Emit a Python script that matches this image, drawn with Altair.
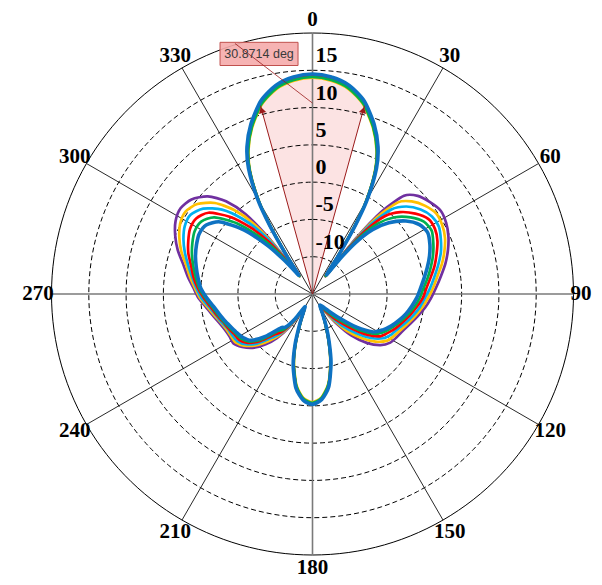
import math
import altair as alt
import pandas as pd

# ---------------- data (gain in dB, angle in degrees clockwise from top) ----------------
ANGLES = [0, 5, 10, 15, 20, 24, 27, 30, 32, 34, 36, 38, 40, 43, 47, 52, 57, 62, 67, 72,
          77, 82, 87, 92, 97, 102, 107, 112, 117, 122, 127, 132, 137, 141, 145, 149, 153,
          157, 161, 165, 170, 175, 180,
          185, 190, 195, 199, 203, 207, 211, 215, 219, 223, 228, 233, 238, 243, 248, 253,
          258, 263, 268, 273, 278, 283, 288, 293, 298, 303, 308, 313, 317, 320, 322, 324,
          326, 328, 330, 333, 336, 340, 345, 350, 355]

PURPLE_R = [14.2, 13.9, 13.1, 11.5, 8.9, 6.3, 3.6, -0.5, -4.5, -9.0, -12.0,
            -5.5, -0.5, 3.0, 4.3, 5.0, 5.5, 5.3, 4.8, 4.1, 3.3, 2.4, 1.6, 0.9, 0.2, -0.6,
            -1.3, -1.9, -2.3, -2.7, -3.6, -5.2, -7.4, -10.0, -12.3, -13.0,
            -12.0, -10.5, -8.3, -5.6, -2.6, -0.9, -0.3]
PURPLE_L = [-0.8, -2.4, -5.2, -8.0, -10.8, -12.5,
            -12.0, -9.6, -7.4, -5.8, -4.2, -3.2, -2.5, -2.5, -2.3, -1.9, -1.3, -0.6, 0.3,
            1.0, 1.9, 2.8, 4.0, 5.0, 5.8, 6.1, 5.6, 4.2, 2.0, -1.0, -5.5,
            -12.0, -9.0, -4.5, -0.5, 3.6, 6.3, 8.9, 11.5, 13.1, 13.9]

YELLOW_R = [14.0, 13.7, 12.9, 11.3, 8.7, 6.1, 3.4, -0.7, -4.7, -9.2, -12.0,
            -6.2, -1.6, 1.8, 3.2, 4.2, 4.8, 4.7, 4.3, 3.6, 2.8, 1.9, 1.2, 0.5, -0.2, -0.9,
            -1.6, -2.2, -2.7, -3.2, -4.4, -6.2, -8.3, -10.6, -12.5, -13.0,
            -12.0, -10.6, -8.4, -5.8, -2.8, -1.1, -0.5]
YELLOW_L = [-1.0, -2.6, -5.4, -8.2, -11.0, -12.5,
            -12.2, -9.9, -7.8, -6.4, -4.7, -3.5, -2.8, -2.7, -2.5, -2.1, -1.5, -0.8, 0.1,
            0.8, 1.6, 2.4, 3.5, 4.4, 5.1, 5.3, 4.6, 2.9, 0.4, -2.6, -6.6,
            -12.0, -9.2, -4.7, -0.7, 3.4, 6.1, 8.7, 11.3, 12.9, 13.7]

CYAN_R = [14.2, 13.9, 13.1, 11.5, 8.9, 6.3, 3.6, -0.5, -4.5, -9.0, -12.0,
          -6.9, -2.7, 0.5, 2.2, 3.4, 4.1, 4.2, 3.7, 3.1, 2.3, 1.5, 0.8, 0.1, -0.5, -1.2,
          -1.9, -2.6, -3.1, -3.8, -5.2, -7.2, -9.2, -11.1, -12.7, -13.0,
          -12.0, -10.5, -8.3, -5.6, -2.6, -0.9, -0.3]
CYAN_L = [-0.8, -2.4, -5.2, -8.0, -10.8, -12.5,
          -12.4, -10.2, -8.2, -7.0, -5.1, -3.8, -3.1, -2.9, -2.7, -2.2, -1.7, -1.0, -0.1,
          0.6, 1.3, 2.1, 3.0, 3.8, 4.4, 4.5, 3.6, 1.6, -1.2, -4.2, -7.7,
          -12.0, -9.0, -4.5, -0.5, 3.6, 6.3, 8.9, 11.5, 13.1, 13.9]

RED_R = [14.2, 13.9, 13.1, 11.5, 8.9, 6.3, 3.6, -0.5, -4.5, -9.0, -12.0,
         -7.6, -3.8, -0.7, 1.1, 2.5, 3.5, 3.6, 3.2, 2.5, 1.8, 1.0, 0.3, -0.2, -0.9, -1.6,
         -2.3, -2.9, -3.6, -4.3, -6.0, -8.3, -10.2, -11.7, -12.8, -13.0,
         -12.0, -10.5, -8.3, -5.6, -2.6, -0.9, -0.3]
RED_L = [-0.8, -2.4, -5.2, -8.0, -10.8, -12.5,
         -12.6, -10.4, -8.5, -7.6, -5.6, -4.1, -3.4, -3.2, -2.8, -2.4, -1.8, -1.2, -0.4,
         0.4, 1.1, 1.7, 2.5, 3.1, 3.6, 3.6, 2.7, 0.2, -2.8, -5.8, -8.8,
         -12.0, -9.0, -4.5, -0.5, 3.6, 6.3, 8.9, 11.5, 13.1, 13.9]

GREEN_R = [14.1, 13.8, 13.0, 11.4, 8.8, 6.2, 3.5, -0.6, -4.6, -9.1, -12.0,
           -8.3, -4.9, -2.0, 0.1, 1.7, 2.8, 3.1, 2.6, 2.0, 1.3, 0.6, -0.1, -0.6, -1.2, -1.9,
           -2.6, -3.3, -4.0, -4.9, -6.8, -9.3, -11.1, -12.2, -13.0, -13.0,
           -12.0, -10.6, -8.4, -5.7, -2.7, -1.0, -0.4]
GREEN_L = [-0.9, -2.5, -5.3, -8.1, -10.9, -12.5,
           -12.8, -10.7, -8.9, -8.2, -6.0, -4.4, -3.7, -3.4, -3.0, -2.5, -2.0, -1.4, -0.6,
           0.2, 0.8, 1.4, 2.0, 2.5, 2.9, 2.8, 1.7, -1.1, -4.4, -7.4, -9.9,
           -12.0, -9.1, -4.6, -0.6, 3.5, 6.2, 8.8, 11.4, 13.0, 13.8]

BLUE_R = [14.5, 14.2, 13.4, 11.8, 9.2, 6.6, 3.9, -0.2, -4.2, -8.7, -11.8,
          -9.0, -6.0, -3.2, -1.0, 0.9, 2.1, 2.5, 2.1, 1.5, 0.8, 0.1, -0.5, -1.0, -1.6, -2.2,
          -2.9, -3.6, -4.4, -5.4, -7.6, -10.3, -12.0, -12.8, -13.2, -13.0,
          -12.0, -10.3, -8.1, -5.4, -2.4, -0.8, -0.2]
BLUE_L = [-0.7, -2.2, -5.0, -7.8, -10.6, -12.4,
          -13.0, -11.0, -9.3, -8.8, -6.5, -4.7, -4.0, -3.6, -3.2, -2.7, -2.2, -1.6, -0.8,
          0.0, 0.5, 1.0, 1.5, 1.9, 2.2, 2.0, 0.7, -2.4, -6.0, -9.0, -11.0,
          -11.8, -8.7, -4.2, -0.2, 3.9, 6.6, 9.2, 11.8, 13.4, 14.2]

CURVES = [
    ("purple", "#7030A0", 2.7, PURPLE_R + PURPLE_L),
    ("yellow", "#FFC000", 2.7, YELLOW_R + YELLOW_L),
    ("cyan", "#00B0F0", 2.7, CYAN_R + CYAN_L),
    ("red", "#FF0000", 2.7, RED_R + RED_L),
    ("green", "#00B050", 2.7, GREEN_R + GREEN_L),
    ("blue", "#0E72C2", 3.6, BLUE_R + BLUE_L),
]

CENTER_GAIN = -15
OUTER_GAIN = 20
RING_GAINS = [-10, -5, 0, 5, 10, 15]
RADIAL_LABELS = ["-10", "-5", "0", "5", "10", "15"]
SPOKE_ANGLES = [0, 30, 60, 90, 120, 150, 180, 210, 240, 270, 300, 330]
ANGLE_LABELS = ["0", "30", "60", "90", "120", "150", "180", "210", "240", "270", "300", "330"]
LABEL_GAIN = 21.8
HPBW = 30.8714
ARROW_GAIN = 11.2
LEADER_GAIN = 10.6
NOTE_TEXT = "30.8714 deg"
NOTE_BOX = [-12.40, 30.64, -1.94, 33.75]   # x1, y1, x2, y2 in plot units
NOTE_ANCHOR = [-10.4, 33.6]
NOTE_TEXT_POS = [-7.17, 32.15]

# ---------------- layout ----------------
W, H = 586, 577
CX, CY = 304.5, 286.0
PX = 261.0 / (OUTER_GAIN - CENTER_GAIN)
XDOM = [-CX / PX, (W - CX) / PX]
YDOM = [-(H - CY) / PX, CY / PX]
LABEL_HALF_W = 13.0 / PX   # keep angle labels inside the drawing


def polar(angle, gain):
    r = gain - CENTER_GAIN
    t = math.radians(angle)
    return r * math.sin(t), r * math.cos(t)


X = alt.X("x:Q", scale=alt.Scale(domain=XDOM, nice=False, zero=False), axis=None)
Y = alt.Y("y:Q", scale=alt.Scale(domain=YDOM, nice=False, zero=False), axis=None)
X2 = alt.X2("x2:Q")
Y2 = alt.Y2("y2:Q")

layers = []

# pink half-power sector
half = HPBW / 2
sel = sorted(((a if a <= 180 else a - 360), g) for a, g in zip(ANGLES, CURVES[0][3])
             if min(a, 360 - a) < half)
poly = [(0.0, 0.0), polar(-half, ARROW_GAIN)] + [polar(a, g) for a, g in sel] + [polar(half, ARROW_GAIN)]
poly_df = pd.DataFrame([{"x": p[0], "y": p[1], "i": i} for i, p in enumerate(poly)])
layers.append(alt.Chart(poly_df).mark_line(interpolate="linear-closed", fill="#FCE3E3",
                                           strokeWidth=0).encode(x=X, y=Y, order="i:Q"))

# rings
ring_rows = []
for g in RING_GAINS + [OUTER_GAIN]:
    for i, a in enumerate(range(0, 360, 2)):
        x, y = polar(a, g)
        ring_rows.append({"x": x, "y": y, "i": i, "ring": g, "outer": g == OUTER_GAIN})
ring_df = pd.DataFrame(ring_rows)
layers.append(alt.Chart(ring_df[~ring_df.outer]).mark_line(
    interpolate="linear-closed", color="#000000", strokeWidth=1, strokeDash=[5, 3]
).encode(x=X, y=Y, detail="ring:N", order="i:Q"))
layers.append(alt.Chart(ring_df[ring_df.outer]).mark_line(
    interpolate="linear-closed", color="#000000", strokeWidth=1
).encode(x=X, y=Y, detail="ring:N", order="i:Q"))

# spokes
spoke_rows = []
for a in SPOKE_ANGLES:
    x2, y2 = polar(a, OUTER_GAIN)
    spoke_rows.append({"x": 0.0, "y": 0.0, "x2": x2, "y2": y2, "main": a % 90 == 0})
spoke_df = pd.DataFrame(spoke_rows)
layers.append(alt.Chart(spoke_df[~spoke_df.main]).mark_rule(color="#111111", strokeWidth=0.9)
              .encode(x=X, y=Y, x2=X2, y2=Y2))
layers.append(alt.Chart(spoke_df[spoke_df.main]).mark_rule(color="#7a7a7a", strokeWidth=1.6)
              .encode(x=X, y=Y, x2=X2, y2=Y2))

# pattern curves
for name, col, w, vals in CURVES:
    rows = []
    for i, (a, g) in enumerate(zip(ANGLES, vals)):
        x, y = polar(a, g)
        rows.append({"x": x, "y": y, "i": i})
    layers.append(alt.Chart(pd.DataFrame(rows)).mark_line(
        interpolate="cardinal-closed", tension=0.3, color=col, strokeWidth=w,
        strokeJoin="round").encode(x=X, y=Y, order="i:Q"))

# half-power arrows
arrow_rows = []
for a in (-half, half):
    x2, y2 = polar(a, ARROW_GAIN)
    arrow_rows.append({"x": 0.0, "y": 0.0, "x2": x2, "y2": y2})
layers.append(alt.Chart(pd.DataFrame(arrow_rows)).mark_rule(color="#9B1B1B", strokeWidth=1)
              .encode(x=X, y=Y, x2=X2, y2=Y2))
for a in (-half, half):
    hx, hy = polar(a, ARROW_GAIN - 0.6)
    layers.append(alt.Chart(pd.DataFrame([{"x": hx, "y": hy}])).mark_point(
        shape="triangle-up", filled=True, size=55, color="#9B1B1B", opacity=1,
        angle=a % 360).encode(x=X, y=Y))

# annotation box, leader, text
box_df = pd.DataFrame([{"x": NOTE_BOX[0], "y": NOTE_BOX[1], "x2": NOTE_BOX[2], "y2": NOTE_BOX[3]}])
layers.append(alt.Chart(box_df).mark_rect(fill="#F5ABAB", stroke="#C0504D", strokeWidth=1,
                                          fillOpacity=0.9)
              .encode(x=X, y=Y, x2=X2, y2=Y2))
lx, ly = polar(0, LEADER_GAIN)
leader_df = pd.DataFrame([{"x": NOTE_ANCHOR[0], "y": NOTE_ANCHOR[1], "x2": lx, "y2": ly}])
layers.append(alt.Chart(leader_df).mark_rule(color="#9B1B1B", strokeWidth=0.8)
              .encode(x=X, y=Y, x2=X2, y2=Y2))
note_df = pd.DataFrame([{"x": NOTE_TEXT_POS[0], "y": NOTE_TEXT_POS[1], "t": NOTE_TEXT}])
layers.append(alt.Chart(note_df).mark_text(font="Liberation Sans", fontSize=12.5,
                                           color="#3a3a3a", align="center", baseline="middle")
              .encode(x=X, y=Y, text="t:N"))

# angle labels
al_rows = []
for a, lab in zip(SPOKE_ANGLES, ANGLE_LABELS):
    x, y = polar(a, LABEL_GAIN)
    x = min(max(x, XDOM[0] + LABEL_HALF_W * len(lab) / 2), XDOM[1] - LABEL_HALF_W * len(lab) / 2)
    al_rows.append({"x": x, "y": y, "t": lab})
layers.append(alt.Chart(pd.DataFrame(al_rows)).mark_text(
    font="Liberation Serif", fontWeight="bold", fontSize=21, color="#000000",
    align="center", baseline="middle").encode(x=X, y=Y, text="t:N"))

# radial labels
rl_rows = []
for g, lab in zip(RING_GAINS, RADIAL_LABELS):
    x, y = polar(0, g)
    rl_rows.append({"x": x, "y": y, "t": lab})
layers.append(alt.Chart(pd.DataFrame(rl_rows)).mark_text(
    font="Liberation Serif", fontWeight="bold", fontSize=22, color="#000000",
    align="left", baseline="alphabetic", dx=3, dy=-8).encode(x=X, y=Y, text="t:N"))

chart = alt.layer(*layers).properties(
    width=W, height=H, autosize=alt.AutoSizeParams(type="none"), padding=0,
    background="#ffffff"
).configure_view(strokeWidth=0)

chart.save("out.html", embed_options={"renderer": "svg", "actions": False})
